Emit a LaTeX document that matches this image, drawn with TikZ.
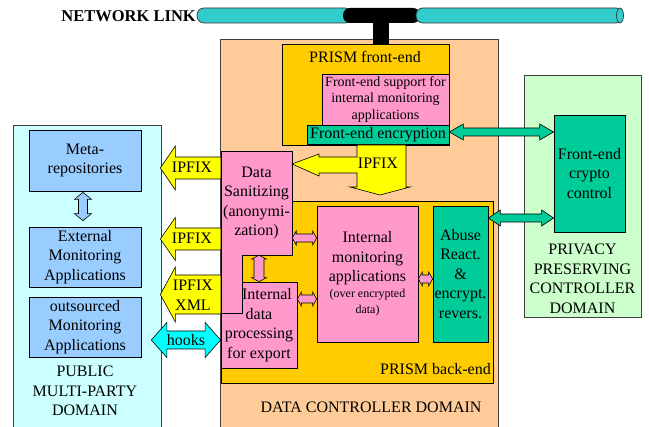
\documentclass[tikz,border=0pt]{standalone}
\usepackage{fontspec}
\setmainfont{Liberation Serif}
\newfontfamily\serifmain{Liberation Serif}
\usetikzlibrary{calc}
\definecolor{peach}{HTML}{FFCC99}
\definecolor{gold}{HTML}{FFCC00}
\definecolor{pinkbox}{HTML}{FF99CC}
\definecolor{greenbox}{HTML}{00CC99}
\definecolor{lightgreen}{HTML}{CCFFCC}
\definecolor{lightcyan}{HTML}{CCFFFF}
\definecolor{bluebox}{HTML}{99CCFF}
\definecolor{cablecol}{HTML}{33CCCC}
\definecolor{hookcyan}{HTML}{00FFFF}
\definecolor{arrowyellow}{HTML}{FFFF00}
% horizontal double arrow: style, left end, right end, body half, head half, head length
\newcommand\dblarrowH[6]{%
  \path[#1] let \p1=(#2), \p2=(#3) in
   (\x1,\y1) -- (\x1+#6,\y1+#5) -- (\x1+#6,\y1+#4) -- (\x2-#6,\y1+#4) -- (\x2-#6,\y1+#5)
   -- (\x2,\y1) -- (\x2-#6,\y1-#5) -- (\x2-#6,\y1-#4) -- (\x1+#6,\y1-#4) -- (\x1+#6,\y1-#5) -- cycle;}
% vertical double arrow: style, top end, bottom end, body half, head half, head length
\newcommand\dblarrowV[6]{%
  \path[#1] let \p1=(#2), \p2=(#3) in
   (\x1,\y1) -- (\x1+#5,\y1-#6) -- (\x1+#4,\y1-#6) -- (\x1+#4,\y2+#6) -- (\x1+#5,\y2+#6)
   -- (\x1,\y2) -- (\x1-#5,\y2+#6) -- (\x1-#4,\y2+#6) -- (\x1-#4,\y1-#6) -- (\x1-#5,\y1-#6) -- cycle;}
% left pointing single arrow: style, tip, tail, body half, head half, head length
\newcommand\leftarrowshape[6]{%
  \path[#1] let \p1=(#2), \p2=(#3) in
   (\x1,\y1) -- (\x1+#6,\y1+#5) -- (\x1+#6,\y1+#4) -- (\x2,\y1+#4) -- (\x2,\y1-#4)
   -- (\x1+#6,\y1-#4) -- (\x1+#6,\y1-#5) -- cycle;}
\newcommand\smalltxt{\fontsize{12}{16}\selectfont}
\begin{document}
\begin{tikzpicture}[x=1pt,y=-1pt,
  box/.style={draw=black, line width=0.7pt, inner sep=0pt, align=center, font=\serifmain\fontsize{16}{19.5}\selectfont},
  domainbox/.style={draw=black!75, line width=0.7pt, inner sep=0pt},
  txt/.style={inner sep=0pt, align=center, font=\serifmain\fontsize{16}{19.5}\selectfont},
  yarrow/.style={draw=black, line width=0.6pt, fill=arrowyellow},
  parrow/.style={draw=black, line width=0.6pt, fill=pinkbox},
  garrow/.style={draw=black, line width=0.6pt, fill=greenbox},
  carrow/.style={draw=black, line width=0.6pt, fill=hookcyan},
  barrow/.style={draw=black, line width=0.6pt, fill=bluebox},
  cablestyle/.style={draw=black!80, line width=0.7pt, fill=cablecol},
]
\useasboundingbox (0,0) rectangle (649,427);
\clip (0,0) rectangle (649,427);

% ---------- data controller domain
\node[domainbox, fill=peach, minimum width=278pt, minimum height=392pt] (dc) at (359,235) {};

% ---------- network link
\draw[cablestyle, rounded corners=7pt] (197,8) rectangle (352,23);
\fill[black, rounded corners=7pt] (343,8) rectangle (420,23);
\draw[cablestyle, rounded corners=7pt] (416,8) rectangle (623,23);
\draw[cablestyle] (620,15.5) ellipse [x radius=3.5pt, y radius=7.5pt];
\fill[black] (373,22) rectangle (389,44.5);
\node[inner sep=0pt, anchor=east, font=\serifmain\fontsize{16.5}{19}\selectfont\bfseries] (netlink) at (196,16.5) {NETWORK LINK};

% ---------- front-end
\node[box, fill=gold, minimum width=167pt, minimum height=101pt] (fe) at (365.5,94.5) {};
\node[txt] (felabel) at (365,57) {PRISM front-end};
\node[box, fill=pinkbox, minimum width=127pt, minimum height=51pt, font=\serifmain\fontsize{14}{16.5}\selectfont] (sup) at (385.5,99.5) {Front-end support for\\internal monitoring\\applications};
\node[box, fill=greenbox, minimum width=142pt, minimum height=19pt] (enc) at (378,134.5) {Front-end encryption};

% ---------- back-end
\node[box, fill=gold, minimum width=272pt, minimum height=182pt] (be) at (357,292) {};
\node[txt, anchor=east] (belabel) at (491,369) {PRISM back-end};
\node[box, fill=pinkbox, minimum width=101pt, minimum height=136pt] (mon) at (367.5,274)
  {Internal\\monitoring\\applications\\[-3.5pt]\smalltxt(over encrypted\\[-3.5pt]\smalltxt data)};
\node[box, fill=greenbox, minimum width=55pt, minimum height=136pt] (abuse) at (460.5,274)
  {Abuse\\React.\\\&\\encrypt.\\revers.};
\node[box, fill=pinkbox, minimum width=76pt, minimum height=86pt] (idp) at (259,325)
  {\hspace*{16pt}Internal\\data\\processing\\for export};
\path[draw=black, line width=0.7pt, fill=pinkbox]
  (221,151) -- (292,151) -- (292,255) -- (242,255) -- (242,313) -- (221,313) -- cycle;
\node[txt, minimum width=71pt, minimum height=104pt] (san) at (256.5,203)
  {Data\\Sanitizing\\(anonymi-\\zation)};

% internal pink arrows
\coordinate (py1) at (0,238);
\coordinate (py2) at (0,299);
\coordinate (py3) at (0,279);
\dblarrowH{parrow}{san.east |- py1}{mon.west |- py1}{4pt}{7pt}{4pt}
\dblarrowH{parrow}{idp.east |- py2}{mon.west |- py2}{4pt}{7pt}{4pt}
\dblarrowH{parrow}{mon.east |- py3}{abuse.west |- py3}{4pt}{7pt}{4pt}
\dblarrowV{parrow}{idp.north |- san.south}{idp.north}{5pt}{7.5pt}{4pt}

% bent IPFIX arrow
\path[yarrow] (357,145) -- (406,145) -- (406,187) -- (410,187) -- (380,195) -- (350,187)
  -- (357,187) -- (357,173) -- (319,173) -- (319,176) -- (292,164) -- (319,154)
  -- (319,157) -- (357,157) -- cycle;
\node[txt] (ipfixfe) at (378,163) {IPFIX};

% ---------- public multi-party domain
\node[domainbox, fill=lightcyan, minimum width=148pt, minimum height=306pt] (pub) at (87,278) {};
\node[txt] (publabel) at (85,391) {PUBLIC\\MULTI-PARTY\\DOMAIN};
\node[box, fill=bluebox, minimum width=112pt, minimum height=61pt] (meta) at (85,160.5) {Meta-\\repositories};
\node[box, fill=bluebox, minimum width=112pt, minimum height=60pt] (ext) at (85,257) {External\\Monitoring\\Applications};
\node[box, fill=bluebox, minimum width=112pt, minimum height=60pt] (outs) at (85,327) {outsourced\\Monitoring\\Applications};
\dblarrowV{barrow}{$(meta.south)+(-2,1)$}{$(ext.north)+(-2,-6)$}{4.5pt}{8.5pt}{7pt}

% export arrows
\coordinate (ay1) at (0,168);
\coordinate (ay2) at (0,239);
\coordinate (ay3) at (0,294.5);
\coordinate (ay4) at (0,340);
\leftarrowshape{yarrow}{$(pub.east |- ay1)+(-1,0)$}{san.west |- ay1}{11pt}{22pt}{15pt}
\leftarrowshape{yarrow}{$(pub.east |- ay2)+(-1,0)$}{san.west |- ay2}{11pt}{21.5pt}{15pt}
\leftarrowshape{yarrow}{$(pub.east |- ay3)+(-1,0)$}{san.west |- ay3}{19.5pt}{27.5pt}{15pt}
\node[txt] (ipfix1) at (192,167) {IPFIX};
\node[txt] (ipfix2) at (192,238) {IPFIX};
\node[txt] (ipfix3) at (193,295.5) {IPFIX\\XML};
\dblarrowH{carrow}{$(pub.east |- ay4)+(-10,0)$}{idp.west |- ay4}{9pt}{17.5pt}{15.5pt}
\node[txt] (hooks) at (186,340) {hooks};

% ---------- privacy preserving controller domain
\node[domainbox, fill=lightgreen, minimum width=117pt, minimum height=242pt] (priv) at (582.5,196) {};
\node[txt] (privlabel) at (582.5,279) {PRIVACY\\PRESERVING\\CONTROLLER\\DOMAIN};
\node[box, fill=greenbox, minimum width=71pt, minimum height=117pt] (crypto) at (589.5,173.5) {Front-end\\crypto\\control};

\coordinate (gy1) at (0,132);
\coordinate (gy2) at (0,218);
\dblarrowH{garrow}{enc.east |- gy1}{crypto.west |- gy1}{4pt}{8pt}{14pt}
\dblarrowH{garrow}{abuse.east |- gy2}{crypto.west |- gy2}{4pt}{8pt}{12pt}

\node[txt] (dclabel) at (371,407) {DATA CONTROLLER DOMAIN};
\end{tikzpicture}
\end{document}
